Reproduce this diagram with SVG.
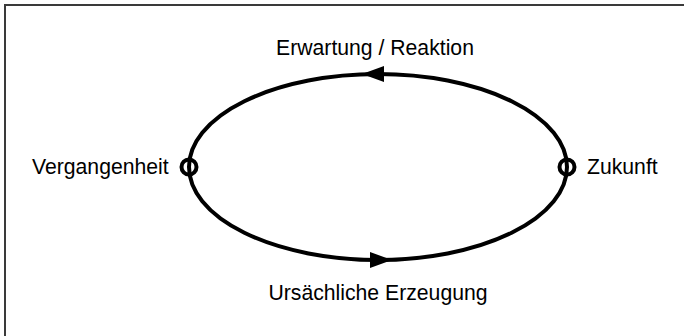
<svg xmlns="http://www.w3.org/2000/svg" width="684" height="336" viewBox="0 0 684 336">
<style>
text{font-family:"Liberation Sans",Arial,sans-serif;font-size:21.2px;fill:#000}
.loop{fill:none;stroke:#000;stroke-width:4}
.port{fill:none;stroke:#000;stroke-width:4}
</style>
<rect x="0" y="0" width="684" height="336" fill="#fff"/>
<rect x="5" y="5" width="700" height="400" fill="none" stroke="#3a3a3a" stroke-width="2"/>
<g id="connectors">
<ellipse class="loop" cx="378" cy="167" rx="189" ry="93"/>
<polygon points="362,74 384,66 384,82" fill="#000"/>
<polygon points="392,260 370,252 370,268" fill="#000"/>
</g>
<g id="vergangenheit">
<circle class="port" cx="189" cy="167" r="7.5"/>
<text x="32" y="174">Vergangenheit</text>
</g>
<g id="zukunft">
<circle class="port" cx="567" cy="167" r="7.5"/>
<text x="587" y="174">Zukunft</text>
</g>
<g id="erwartung">
<text x="375" y="55" text-anchor="middle">Erwartung / Reaktion</text>
</g>
<g id="erzeugung">
<text x="378" y="300" text-anchor="middle">Ursächliche Erzeugung</text>
</g>
</svg>
